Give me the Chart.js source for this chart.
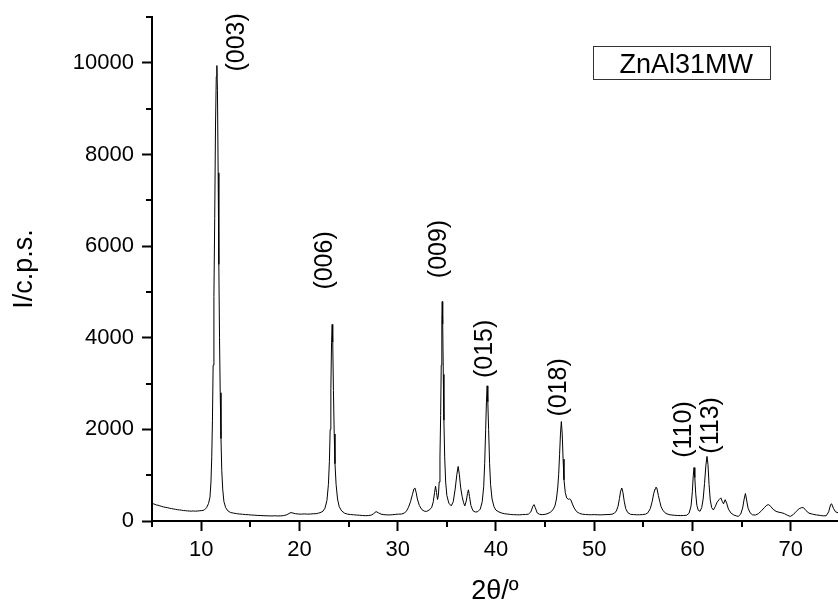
<!DOCTYPE html>
<html>
<head>
<meta charset="utf-8">
<script src="https://cdn.jsdelivr.net/npm/chart.js@4.4.0/dist/chart.umd.min.js"></script>
<style>
  body { margin: 0; background: #fff; }
</style>
</head>
<body>
<canvas id="myChart" width="838" height="610"></canvas>
<script>
const FONT_FAMILY = "'Liberation Sans', Arial, sans-serif";
const LINE_COLOR = '#000';

// 2theta (degrees)
const angle = [
  5.0, 5.15, 5.3, 5.45, 5.6, 5.8, 6.0, 6.2, 6.4, 6.6, 6.8, 7.0, 7.2, 7.4, 7.6, 7.8, 8.0, 8.2, 8.4, 8.6,
  8.8, 9.0, 9.2, 9.4, 9.6, 9.8, 10.0, 10.2, 10.35, 10.55, 10.75, 10.9, 11.0, 11.08, 11.15, 11.22, 11.3, 11.38, 11.46, 11.54,
  11.6, 11.66, 11.73, 11.8, 11.87, 11.94, 12.02, 12.1, 12.2, 12.32, 12.5, 12.75, 13.0, 13.3, 13.6, 13.9, 14.2, 14.5, 14.8, 15.1,
  15.4, 15.7, 16.0, 16.3, 16.6, 16.9, 17.2, 17.5, 17.8, 18.1, 18.4, 18.7, 18.95, 19.15, 19.35, 19.6, 19.9, 20.2, 20.5, 20.8,
  21.1, 21.4, 21.7, 21.95, 22.2, 22.4, 22.6, 22.8, 22.95, 23.05, 23.13, 23.2, 23.27, 23.33, 23.39, 23.46, 23.54, 23.62, 23.73, 23.88,
  24.05, 24.3, 24.6, 24.9, 25.2, 25.5, 25.8, 26.1, 26.4, 26.7, 27.0, 27.3, 27.55, 27.8, 28.05, 28.3, 28.6, 28.9, 29.2, 29.5,
  29.8, 30.1, 30.4, 30.7, 30.9, 31.1, 31.3, 31.5, 31.65, 31.75, 31.88, 32.0, 32.2, 32.45, 32.7, 32.95, 33.2, 33.45, 33.62, 33.75,
  33.85, 33.95, 34.05, 34.14, 34.22, 34.3, 34.37, 34.43, 34.49, 34.53, 34.58, 34.64, 34.7, 34.78, 34.88, 35.0, 35.2, 35.45, 35.65, 35.85,
  36.02, 36.15, 36.27, 36.4, 36.55, 36.7, 36.83, 36.98, 37.1, 37.2, 37.3, 37.45, 37.65, 37.9, 38.15, 38.4, 38.6, 38.75, 38.85, 38.95,
  39.03, 39.1, 39.17, 39.25, 39.35, 39.45, 39.6, 39.8, 40.0, 40.3, 40.6, 40.9, 41.2, 41.5, 41.8, 42.1, 42.4, 42.7, 43.0, 43.3,
  43.55, 43.75, 43.87, 44.0, 44.2, 44.45, 44.7, 45.0, 45.3, 45.55, 45.8, 46.0, 46.15, 46.28, 46.38, 46.47, 46.56, 46.65, 46.74, 46.83,
  46.92, 47.05, 47.2, 47.35, 47.5, 47.62, 47.78, 47.95, 48.2, 48.5, 48.8, 49.1, 49.4, 49.7, 50.0, 50.3, 50.6, 50.9, 51.2, 51.5,
  51.8, 52.05, 52.25, 52.42, 52.56, 52.68, 52.8, 52.92, 53.05, 53.2, 53.4, 53.7, 54.0, 54.3, 54.6, 54.9, 55.2, 55.45, 55.7, 55.9,
  56.05, 56.18, 56.28, 56.38, 56.52, 56.66, 56.8, 57.0, 57.3, 57.6, 57.9, 58.2, 58.5, 58.8, 59.1, 59.4, 59.65, 59.85, 59.98, 60.07,
  60.15, 60.23, 60.32, 60.44, 60.58, 60.76, 60.93, 61.08, 61.22, 61.36, 61.47, 61.57, 61.68, 61.8, 61.95, 62.12, 62.3, 62.5, 62.72, 62.88,
  63.02, 63.15, 63.32, 63.47, 63.65, 63.9, 64.2, 64.45, 64.65, 64.9, 65.1, 65.25, 65.38, 65.5, 65.65, 65.85, 66.1, 66.4, 66.7, 67.0,
  67.3, 67.55, 67.75, 67.95, 68.2, 68.5, 68.8, 69.1, 69.35, 69.65, 69.95, 70.25, 70.55, 70.85, 71.1, 71.3, 71.55, 71.85, 72.2, 72.6,
  73.0, 73.3, 73.6, 73.85, 74.05, 74.15, 74.35, 74.55, 74.85
];

// intensity (c.p.s.) for each angle above
const counts = [
  393, 375, 362, 350, 345, 330, 318, 305, 298, 290, 278, 270, 262, 255, 246, 242, 236, 228, 226, 220,
  218, 214, 220, 214, 218, 222, 226, 232, 245, 290, 380, 520, 850, 1400, 2200, 3400, 4900, 6600, 8600, 9700,
  9940, 9400, 7600, 5600, 4000, 2800, 1800, 1100, 680, 420, 290, 215, 185, 172, 160, 152, 148, 140, 138, 130,
  128, 122, 120, 116, 114, 112, 110, 114, 110, 112, 118, 135, 165, 185, 172, 160, 152, 150, 155, 150,
  152, 158, 160, 172, 190, 215, 280, 450, 800, 1300, 2000, 2900, 3900, 4290, 3900, 2850, 1900, 1250, 800, 480,
  310, 220, 170, 150, 142, 136, 130, 126, 120, 116, 118, 128, 160, 205, 178, 150, 138, 134, 132, 138,
  145, 150, 152, 175, 220, 300, 420, 580, 700, 720, 620, 480, 340, 250, 215, 210, 240, 290, 420, 620,
  760, 620, 470, 560, 850, 1400, 2300, 3400, 4400, 4790, 4300, 3200, 2200, 1400, 850, 560, 390, 330, 420, 700,
  1020, 1190, 1020, 740, 540, 400, 330, 440, 600, 680, 540, 340, 225, 195, 205, 260, 420, 750, 1250, 2000,
  2600, 2950, 2600, 2000, 1250, 800, 480, 310, 235, 198, 172, 158, 150, 142, 138, 136, 134, 140, 142, 150,
  200, 320, 358, 290, 175, 145, 138, 145, 165, 195, 245, 330, 480, 720, 1020, 1450, 1900, 2170, 1900, 1350,
  900, 620, 500, 475, 480, 460, 370, 285, 205, 165, 148, 142, 138, 136, 140, 136, 134, 136, 140, 142,
  148, 170, 220, 320, 490, 650, 720, 620, 430, 270, 185, 145, 140, 136, 136, 140, 148, 178, 270, 430,
  600, 700, 740, 710, 560, 430, 310, 225, 165, 140, 130, 124, 120, 118, 120, 126, 170, 330, 640, 980,
  1165, 950, 600, 340, 235, 212, 290, 480, 820, 1220, 1410, 1230, 800, 460, 290, 240, 310, 410, 470, 505,
  430, 375, 465, 390, 260, 175, 130, 112, 100, 150, 285, 480, 600, 460, 280, 180, 135, 130, 160, 220,
  290, 345, 356, 320, 255, 210, 190, 178, 160, 125, 100, 140, 210, 270, 292, 290, 225, 170, 150, 132,
  122, 112, 115, 200, 360, 375, 270, 200, 175
];

// Miller index labels written above the peaks
const hkl_labels = ['(003)', '(006)', '(009)', '(015)', '(018)', '(110)', '(113)'];
const hkl_angle = [13.68, 22.6, 34.19, 38.89, 46.41, 59.14, 61.88];
const hkl_base = [9810, 5050, 5300, 3120, 2280, 1380, 1470];

// tick values
const x_major = [10, 20, 30, 40, 50, 60, 70];
const x_minor = [5, 15, 25, 35, 45, 55, 65];
const y_major = [0, 2000, 4000, 6000, 8000, 10000];
const y_minor = [1000, 3000, 5000, 7000, 9000, 11000];
const legend_text = 'ZnAl31MW';

const extra_marks = {
    id: 'extraMarks',
    afterDraw(chart) {
        let ctx = chart.ctx;
        let x_scale = chart.scales.x;
        let y_scale = chart.scales.y;
        let area = chart.chartArea;
        ctx.save();

        // short minor ticks
        ctx.strokeStyle = LINE_COLOR;
        ctx.lineWidth = 2;
        ctx.beginPath();
        for (let v of x_minor) {
            let px = Math.round(x_scale.getPixelForValue(v));
            ctx.moveTo(px, area.bottom);
            ctx.lineTo(px, area.bottom + 6);
        }
        for (let v of y_minor) {
            let py = Math.round(y_scale.getPixelForValue(v));
            ctx.moveTo(area.left, py);
            ctx.lineTo(area.left - 6, py);
        }
        ctx.stroke();

        // peak labels, rotated
        ctx.fillStyle = LINE_COLOR;
        ctx.font = '25px ' + FONT_FAMILY;
        ctx.textAlign = 'left';
        ctx.textBaseline = 'middle';
        for (let i = 0; i < hkl_labels.length; i++) {
            ctx.save();
            ctx.translate(x_scale.getPixelForValue(hkl_angle[i]), y_scale.getPixelForValue(hkl_base[i]));
            ctx.rotate(-Math.PI / 2);
            ctx.fillText(hkl_labels[i], 0, 0);
            ctx.restore();
        }

        // legend box
        let box_left = area.right - 244.5;
        let box_top = area.top + 29.5;
        ctx.lineWidth = 1;
        ctx.strokeStyle = '#333';
        ctx.strokeRect(box_left, box_top, 177, 33);
        ctx.font = '27px ' + FONT_FAMILY;
        ctx.textBaseline = 'alphabetic';
        ctx.fillText(legend_text, box_left + 26, box_top + 26);

        ctx.restore();
    }
};

function makeChart() {
    let ctx = document.getElementById('myChart').getContext('2d');
    let points = angle.map((a, i) => ({ x: a, y: counts[i] }));

    return new Chart(ctx, {
        type: 'line',
        data: {
            datasets: [{
                label: legend_text,
                data: points,
                borderColor: LINE_COLOR,
                borderWidth: 1,
                borderJoinStyle: 'round',
                pointRadius: 0,
                fill: false,
                tension: 0
            }]
        },
        options: {
            responsive: false,
            animation: false,
            devicePixelRatio: 1,
            layout: { padding: { top: 17, right: 0, bottom: 0, left: 0 } },
            plugins: {
                legend: { display: false },
                tooltip: { enabled: false }
            },
            scales: {
                x: {
                    type: 'linear',
                    min: 5,
                    max: 74.8,
                    afterBuildTicks: (scale) => {
                        scale.ticks = x_major.map(v => ({ value: v }));
                    },
                    afterFit: (scale) => {
                        scale.height = 89;
                        scale.paddingLeft = 0;
                        scale.paddingRight = 0;
                    },
                    ticks: {
                        autoSkip: false,
                        maxRotation: 0,
                        padding: 6,
                        color: LINE_COLOR,
                        font: { family: FONT_FAMILY, size: 22 },
                        callback: (value) => String(value)
                    },
                    grid: {
                        drawOnChartArea: false,
                        drawTicks: true,
                        tickLength: 10,
                        tickWidth: 2,
                        tickColor: LINE_COLOR
                    },
                    border: { color: LINE_COLOR, width: 2 },
                    title: {
                        display: true,
                        text: '2θ/º',
                        color: LINE_COLOR,
                        font: { family: FONT_FAMILY, size: 27 },
                        padding: { top: 0, bottom: 2 }
                    }
                },
                y: {
                    min: 0,
                    max: 11000,
                    afterBuildTicks: (scale) => {
                        scale.ticks = y_major.map(v => ({ value: v }));
                    },
                    afterFit: (scale) => {
                        scale.width = 152;
                        scale.paddingTop = 0;
                        scale.paddingBottom = 0;
                    },
                    ticks: {
                        autoSkip: false,
                        padding: 8,
                        color: LINE_COLOR,
                        font: { family: FONT_FAMILY, size: 22 },
                        callback: (value) => String(value)
                    },
                    grid: {
                        drawOnChartArea: false,
                        drawTicks: true,
                        tickLength: 10,
                        tickWidth: 2,
                        tickColor: LINE_COLOR
                    },
                    border: { color: LINE_COLOR, width: 2 },
                    title: {
                        display: true,
                        text: 'I/c.p.s.',
                        color: LINE_COLOR,
                        font: { family: FONT_FAMILY, size: 27 },
                        padding: { top: 8, bottom: 0 }
                    }
                }
            }
        },
        plugins: [extra_marks]
    });
}

let my_chart = makeChart();
</script>
</body>
</html>
